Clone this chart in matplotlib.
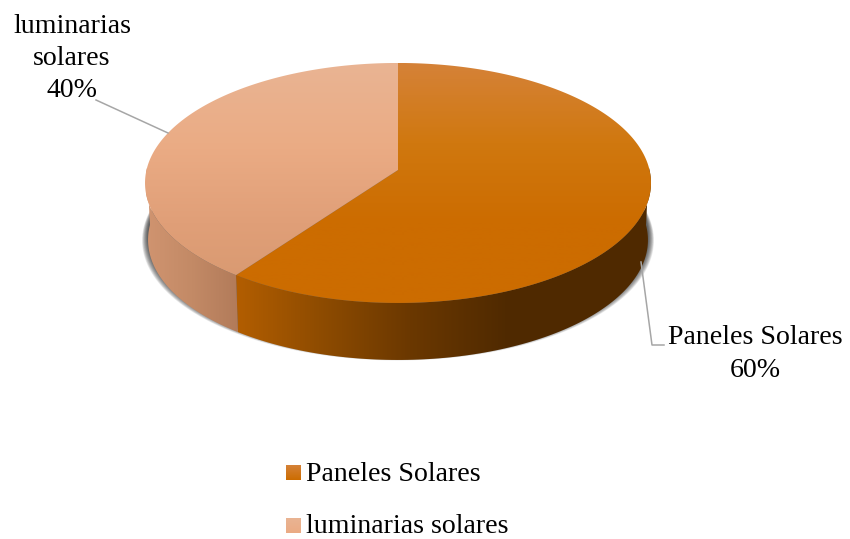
import numpy as np
import matplotlib
matplotlib.use("Agg")
import matplotlib.pyplot as plt
from matplotlib.patches import Polygon, Rectangle
from matplotlib.colors import LinearSegmentedColormap as LSC

categories = ["Paneles Solares", "luminarias solares"]
values = [60, 40]
colors = ["#CC6C00", "#EBAB84"]

plt.rcParams["font.family"] = ["Liberation Serif", "DejaVu Serif"]
fig = plt.figure(figsize=(8.5, 5.39), dpi=100)
ax = fig.add_axes([0, 0, 1, 1])
wedges, _ = ax.pie(values, startangle=90, counterclock=False, colors=colors)
for w in wedges:
    w.set_visible(False)
ax.set_aspect("auto")
ax.set_axis_off()

CX, CY, K, A, B, DEPTH = 398, 170, 0.108, 118.6, 251.5, 57
SHRINK = 0.988

def project(t):
    x, y = np.cos(t), np.sin(t)
    d = 1 + K * y
    return CX + B * x / d, CY - A * y / d

def gradient(patch, stops, horizontal, extent, z):
    cmap = LSC.from_list("g", stops)
    g = np.linspace(0, 1, 256)
    arr = g[None, :] if horizontal else g[:, None]
    ax.add_patch(patch)
    im = ax.imshow(arr, cmap=cmap, extent=extent, aspect="auto", zorder=z,
                   vmin=0, vmax=1, origin="upper")
    im.set_clip_path(patch)

def poly(pts):
    return Polygon(pts, closed=True, transform=ax.transData, fc="none", ec="none")

# soft shadow under the body
tt = np.linspace(0, 2 * np.pi, 300)
sx, sy = project(tt)
for g in np.linspace(6, 0.5, 12):
    ax.fill((sx - CX) * (SHRINK + g / 253) + CX, sy + DEPTH - 4 + g * 0.75, color="#202020",
            alpha=0.09, lw=0, zorder=1)

top_stops = [["#D58238", "#D0780F", "#CC6C00", "#CC6C00"],
             ["#E9B493", "#EBAC85", "#E09F78", "#D6986F"]]
wall_stops = [[(0, "#B35E00"), (0.2, "#8F4C00"), (0.42, "#6B3800"), (0.65, "#502A00"), (1, "#4F2900")],
              ["#D09470", "#C38A66", "#B27B5A"]]
wall_ext = [(235, 651), (146, 238)]
for w, ts, ws, we in zip(wedges, top_stops, wall_stops, wall_ext):
    t = np.radians(np.linspace(w.theta1, w.theta2, 200))
    px, py = project(t)
    front = np.sin(t) <= 0.02
    fx, fy = px[front], py[front]
    bx = (fx - CX) * SHRINK + CX
    wall = np.r_[np.c_[fx, fy], np.c_[bx, fy + DEPTH][::-1]]
    gradient(poly(wall), ws, True, (we[0], we[1], 400, 150), 2)
    top = np.r_[[[CX, CY]], np.c_[px, py]]
    gradient(poly(top), ts, False, (100, 700, 303, 63), 3)

ax.plot([96, 168], [100, 133], color="#A6A6A6", lw=1.1, zorder=4)
ax.plot([641, 652, 664], [262, 345, 345], color="#A6A6A6", lw=1.1, zorder=4)

fs = 20.1
first, second = categories[1].split()
ax.text(72, 58.5, f"{first}\n{second}\n{values[1]}%", ha="center", va="center",
        fontsize=fs, color="#000000", linespacing=1.38)
ax.text(755, 354, f"{categories[0]}\n{values[0]}%", ha="center", va="center",
        fontsize=fs, color="#000000", linespacing=1.38)

legend_stops = [["#D58238", "#CC6C00"], ["#E9B493", "#EBAB84"]]
for st, lab, y, by in zip(legend_stops, categories, (465, 518), (481, 533)):
    r = Rectangle((286, y), 15, 15, fc="none", ec="none", transform=ax.transData)
    gradient(r, st, False, (286, 301, y + 15, y), 4)
    ax.text(306, by, lab, ha="left", va="baseline", fontsize=fs, color="#000000")

ax.set_xlim(0, 850)
ax.set_ylim(539, 0)
fig.savefig("out.png", dpi=100)
